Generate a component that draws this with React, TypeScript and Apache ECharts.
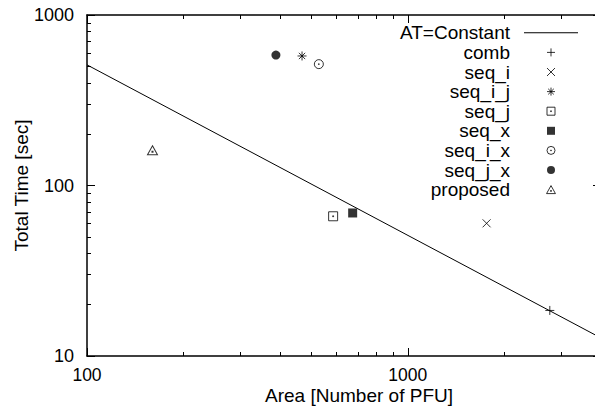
import React, { useEffect, useRef } from "react";
import * as echarts from "echarts";

// ---- data ----
const lineName = "AT=Constant";
const constantLine: [number, number][] = [
  [100, 510],
  [4000, 12.75],
];

const seriesNames = ["comb", "seq_i", "seq_i_j", "seq_j", "seq_x", "seq_i_x", "seq_j_x", "proposed"];
const comb: [number, number][] = [[2770, 18.5]];
const seqI: [number, number][] = [[1760, 60]];
const seqIJ: [number, number][] = [[468, 575]];
const seqJ: [number, number][] = [[585, 66]];
const seqX: [number, number][] = [[673, 69]];
const seqIX: [number, number][] = [[528, 515]];
const seqJX: [number, number][] = [[388, 582]];
const proposed: [number, number][] = [[160, 161]];

const xMajorTicks = [100, 1000];
const xMinorTicks = [200, 300, 400, 500, 600, 700, 800, 900, 2000, 3000];
const yMajorTicks = [10, 100, 1000];
const yMinorTicks = [20, 30, 40, 50, 60, 70, 80, 90, 200, 300, 400, 500, 600, 700, 800, 900];

const FONT = "'Liberation Sans', Arial, Helvetica, sans-serif";

const SYM_PLUS = "path://M5,0L5,10M0,5L10,5";
const SYM_CROSS = "path://M0,0L10,10M10,0L0,10";
const SYM_STAR = "path://M5,0L5,10M0,5L10,5M1.5,1.5L8.5,8.5M8.5,1.5L1.5,8.5";
const SYM_DSQUARE = "path://M0,0L10,0L10,10L0,10ZM4.5,4.5L5.5,4.5L5.5,5.5L4.5,5.5Z";
const SYM_SQUARE = "path://M0,0L10,0L10,10L0,10Z";
const SYM_DCIRCLE = "path://M0,5A5,5,0,1,1,10,5A5,5,0,1,1,0,5ZM4.6,4.6L5.4,4.6L5.4,5.4L4.6,5.4Z";
const SYM_CIRCLE = "path://M0,5A5,5,0,1,1,10,5A5,5,0,1,1,0,5Z";
const SYM_DTRI = "path://M5,0L10,9L0,9ZM4.5,5.5L5.5,5.5L5.5,6.5L4.5,6.5Z";
const SYM_LINE = "path://M0,0L54,0L54,1L0,1Z";

export default function App() {
  const ref = useRef<HTMLDivElement>(null);
  useEffect(() => {
    if (!ref.current) return;
    const chart = echarts.init(ref.current, null, { renderer: "svg" });

    const logX = (extra: any) => ({
      type: "log",
      logBase: 10,
      min: 100,
      max: 4000,
      gridIndex: 0,
      splitLine: { show: false },
      ...extra,
    });
    const logY = (extra: any) => ({
      type: "log",
      logBase: 10,
      min: 10,
      max: 1000,
      gridIndex: 0,
      splitLine: { show: false },
      ...extra,
    });
    const lineBlack = { show: true, lineStyle: { color: "#000", width: 1.5 } };
    const noLine = { show: false };
    const noLabel = { show: false };
    const majorTickX = { show: true, inside: true, length: 8, customValues: xMajorTicks, lineStyle: { color: "#000", width: 1 } };
    const minorTickX = { show: true, inside: true, length: 4, customValues: xMinorTicks, lineStyle: { color: "#000", width: 1 } };
    const majorTickY = { show: true, inside: true, length: 8, customValues: yMajorTicks, lineStyle: { color: "#000", width: 1 } };
    const minorTickY = { show: true, inside: true, length: 4, customValues: yMinorTicks, lineStyle: { color: "#000", width: 1 } };
    const plain = (v: number) => String(Math.round(v));

    const scatter = (name: string, data: [number, number][], symbol: string, size: number | number[], filled: boolean) => ({
      name,
      type: "scatter",
      xAxisIndex: 0,
      yAxisIndex: 0,
      data,
      symbol,
      symbolSize: size,
      itemStyle: filled
        ? { color: "#000", borderWidth: 0 }
        : { color: "rgba(0,0,0,0)", borderColor: "#000", borderWidth: 1 },
      emphasis: { disabled: true },
    });

    const outline = { color: "rgba(0,0,0,0)", borderColor: "#000", borderWidth: 1 };
    const solid = { color: "#000", borderColor: "#000", borderWidth: 0 };
    const legendIcons: Record<string, [string, any]> = {
      comb: [SYM_PLUS, outline],
      seq_i: [SYM_CROSS, outline],
      seq_i_j: [SYM_STAR, outline],
      seq_j: [SYM_DSQUARE, outline],
      seq_x: [SYM_SQUARE, solid],
      seq_i_x: [SYM_DCIRCLE, outline],
      seq_j_x: [SYM_CIRCLE, solid],
      proposed: [SYM_DTRI, outline],
    };

    chart.setOption({
      animation: false,
      backgroundColor: "#fff",
      textStyle: { fontFamily: FONT },
      grid: { left: 87, top: 15, bottom: 52, right: -6, containLabel: false, outerBoundsMode: "none" },
      legend: {
        orient: "vertical",
        align: "right",
        right: 17,
        top: 23,
        padding: 0,
        itemGap: 0,
        itemWidth: 54,
        itemHeight: 8,
        selectedMode: false,
        data: [
          { name: lineName, icon: SYM_LINE, itemStyle: solid },
          ...seriesNames.map((n) => ({ name: n, icon: legendIcons[n][0], itemStyle: legendIcons[n][1] })),
        ],
        textStyle: {
          fontFamily: FONT,
          fontSize: 19,
          color: "#000",
          lineHeight: 19.6,
          padding: [0, 9, 0, 0],
        },
      },
      xAxis: [
        logX({
          position: "bottom",
          axisLine: lineBlack,
          axisTick: majorTickX,
          axisLabel: {
            show: true,
            customValues: xMajorTicks,
            formatter: plain,
            margin: 12,
            lineHeight: 14,
            color: "#000",
            fontSize: 17.5,
            fontFamily: FONT,
          },
          name: "Area [Number of PFU]",
          nameLocation: "middle",
          nameGap: 31,
          nameMoveOverlap: false,
          nameTextStyle: { color: "#000", fontSize: 19, lineHeight: 17, fontFamily: FONT, padding: [0, 0, 0, 30] },
        }),
        logX({ position: "bottom", axisLine: noLine, axisTick: minorTickX, axisLabel: noLabel }),
        logX({ position: "top", axisLine: lineBlack, axisTick: majorTickX, axisLabel: noLabel }),
        logX({ position: "top", axisLine: noLine, axisTick: minorTickX, axisLabel: noLabel }),
      ],
      yAxis: [
        logY({
          position: "left",
          axisLine: lineBlack,
          axisTick: majorTickY,
          axisLabel: { show: true, customValues: yMajorTicks, formatter: plain, margin: 13, color: "#000", fontSize: 18, fontFamily: FONT },
          name: "Total Time [sec]",
          nameLocation: "middle",
          nameGap: 56,
          nameRotate: 90,
          nameMoveOverlap: false,
          nameTextStyle: { color: "#000", fontSize: 19, fontFamily: FONT },
        }),
        logY({ position: "left", axisLine: noLine, axisTick: minorTickY, axisLabel: noLabel }),
        logY({ position: "right", axisLine: lineBlack, axisTick: majorTickY, axisLabel: noLabel }),
        logY({ position: "right", axisLine: noLine, axisTick: minorTickY, axisLabel: noLabel }),
      ],
      series: [
        {
          name: lineName,
          type: "line",
          xAxisIndex: 0,
          yAxisIndex: 0,
          data: constantLine,
          symbol: "none",
          showSymbol: false,
          lineStyle: { color: "#000", width: 1 },
          itemStyle: { color: "#000" },
          emphasis: { disabled: true },
        },
        scatter("comb", comb, SYM_PLUS, 9, false),
        scatter("seq_i", seqI, SYM_CROSS, 8, false),
        scatter("seq_i_j", seqIJ, SYM_STAR, 9, false),
        scatter("seq_j", seqJ, SYM_DSQUARE, 9, false),
        scatter("seq_x", seqX, "rect", 9, true),
        scatter("seq_i_x", seqIX, SYM_DCIRCLE, 9, false),
        scatter("seq_j_x", seqJX, "circle", 9, true),
        scatter("proposed", proposed, SYM_DTRI, [10, 9], false),
      ],
    });
    return () => chart.dispose();
  }, []);
  return (
    <div
      ref={ref}
      style={{ position: "fixed", left: 0, top: 0, width: 595, height: 408, background: "#fff" }}
    />
  );
}
